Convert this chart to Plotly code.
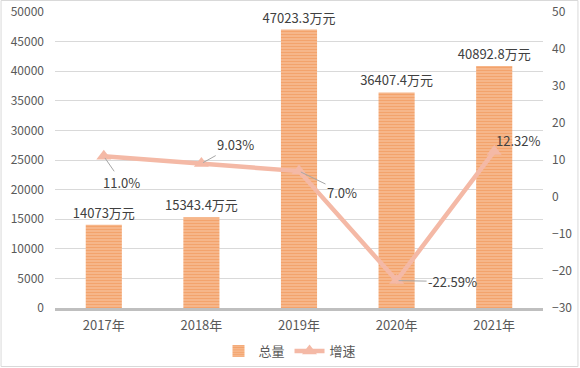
import plotly.graph_objects as go

categories = ["2017年", "2018年", "2019年", "2020年", "2021年"]
totals = [14073, 15343.4, 47023.3, 36407.4, 40892.8]
total_labels = ["14073万元", "15343.4万元", "47023.3万元", "36407.4万元", "40892.8万元"]
growth = [11.0, 9.03, 7.0, -22.59, 12.32]
growth_labels = ["11.0%", "9.03%", "7.0%", "-22.59%", "12.32%"]

FONT = "Noto Sans CJK SC, DejaVu Sans, sans-serif"
W, H = 580, 368
L, R, T, B = 55, 36.5, 12, 60
pw, ph = W - L - R, H - T - B

fig = go.Figure()
fig.add_trace(go.Bar(
    x=categories, y=totals, name="总量",
    text=total_labels, textposition="outside", constraintext="none",
    textfont=dict(size=13, color="#404040", family=FONT),
    cliponaxis=False,
    marker=dict(color="#F4B183", line=dict(width=0),
                pattern=dict(shape="-", fgcolor="#ED7D31", bgcolor="#F8C8A6",
                             size=3, solidity=0.65)),
    width=0.37,
))
fig.add_trace(go.Scatter(
    x=categories, y=growth, name="增速", yaxis="y2", mode="lines+markers",
    line=dict(color="#F4B9A6", width=4.5),
    marker=dict(symbol="triangle-up", size=13, color="#F4B9A6"),
    cliponaxis=False,
))

offsets = [(18, 26, True), (34, -19, True), (43, 21, True), (56, 1, True), (24, -11, False)]
for c, v, t, (ax, ay, arrow) in zip(categories, growth, growth_labels, offsets):
    if arrow:
        fig.add_annotation(x=c, y=v, xref="x", yref="y2", text=t, showarrow=True,
                           ax=ax, ay=ay, arrowhead=0, arrowwidth=1, arrowcolor="#A6A6A6",
                           standoff=2, font=dict(size=13, color="#404040", family=FONT))
    else:
        fig.add_annotation(x=c, y=v, xref="x", yref="y2", text=t, showarrow=False,
                           xshift=ax, yshift=-ay, font=dict(size=13, color="#404040", family=FONT))

fig.add_shape(type="rect", xref="paper", yref="paper",
              x0=(1 - L) / pw, x1=(W - 1.5 - L) / pw,
              y0=-(H - 1.5 - T - ph) / ph, y1=(T - 0.5) / ph + 1,
              line=dict(color="#D9D9D9", width=1), layer="below")

fig.update_layout(
    width=W, height=H,
    margin=dict(l=L, r=R, t=T, b=B, autoexpand=False),
    paper_bgcolor="white", plot_bgcolor="white",
    font=dict(family=FONT, color="#595959", size=12),
    showlegend=True,
    legend=dict(orientation="h", xref="container", yref="container",
                x=0.5, xanchor="center", y=0.005, yanchor="bottom",
                font=dict(size=13, color="#595959")),
    xaxis=dict(showgrid=False, showline=True, linecolor="#BFBFBF", linewidth=2.5,
               ticks="", tickfont=dict(size=13, color="#595959"), ticklabelstandoff=4,
               automargin=False),
    yaxis=dict(range=[0, 50000], dtick=5000, tickformat="d", showgrid=True,
               gridcolor="#D9D9D9", gridwidth=1, zeroline=False, showline=False, ticks="",
               tickfont=dict(size=12, color="#595959"), ticklabelstandoff=10,
               automargin=False),
    yaxis2=dict(range=[-30, 50], dtick=10, overlaying="y", side="right",
                showgrid=False, zeroline=False, showline=False, ticks="",
                tickfont=dict(size=12, color="#595959"), ticklabelstandoff=8,
                automargin=False),
)

fig.write_html("out.html", config={"displayModeBar": False},
               post_script="document.body.style.margin='0';document.body.style.overflow='hidden';")
